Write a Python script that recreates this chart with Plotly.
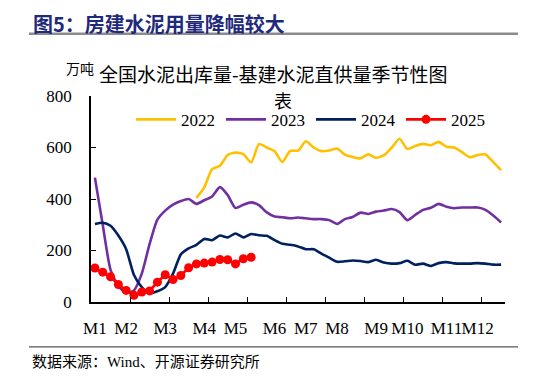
import plotly.graph_objects as go

# ---------------- data ----------------
weeks = list(range(1, 54))
y2022_weeks = list(range(14, 54))
y2022 = [404, 445, 516, 529, 571, 580, 574, 542, 613, 600, 585, 544, 587, 588,
         624, 600, 586, 588, 596, 572, 563, 558, 574, 560, 570, 600, 634, 594,
         606, 614, 609, 622, 603, 600, 582, 562, 571, 573, 543, 512]
y2023 = [483, 300, 125, 62, 35, 45, 110, 225, 320, 355, 378, 392, 400, 381,
         395, 410, 446, 415, 365, 378, 387, 376, 348, 332, 329, 325, 328, 325,
         322, 322, 318, 303, 322, 330, 347, 342, 351, 355, 361, 349, 318, 338,
         358, 366, 381, 370, 364, 367, 367, 367, 358, 336, 309]
y2024 = [303, 308, 296, 258, 205, 105, 58, 33, 42, 58, 110, 185, 208, 222,
         245, 240, 258, 251, 266, 251, 264, 259, 257, 240, 226, 222, 216, 205,
         205, 188, 172, 156, 158, 161, 159, 155, 164, 153, 149, 151, 160, 145,
         149, 140, 151, 155, 150, 149, 149, 151, 149, 145, 145]
y2025_weeks = list(range(1, 22))
y2025 = [132, 116, 98, 68, 45, 26, 39, 43, 77, 106, 87, 103, 133, 148, 151,
         155, 165, 164, 148, 168, 174]

month_labels = ["M1", "M2", "M3", "M4", "M5", "M6", "M7", "M8", "M9", "M10", "M11", "M12"]
month_pos = [1, 5, 10, 15, 19, 24, 28, 32, 37, 41, 46, 50]
tick_marks = [5.5, 10.5, 15.5, 20.5, 25.5, 30.5, 35.5, 40.5, 45.5, 50.5]

# ---------------- geometry helpers ----------------
# the page body has an 8px default margin, so the figure is drawn 8px smaller
OFF = 8
W, H = 546 - OFF, 377 - OFF
L, R, T, B = 91, 505, 95.7, 301.7   # plot area in page pixels


def px(x):
    return (x - L) / (R - L)


def py(y):
    return (B - y) / (B - T)


SERIF = "Liberation Serif, Times New Roman, Noto Sans CJK SC"
CJK = "Noto Sans CJK SC, Liberation Serif"

fig = go.Figure()
fig.add_trace(go.Scatter(x=y2022_weeks, y=y2022, name="2022", mode="lines",
                         line=dict(color="#FFC000", width=2.6, shape="spline", smoothing=0.6)))
fig.add_trace(go.Scatter(x=weeks, y=y2023, name="2023", mode="lines",
                         line=dict(color="#7030A0", width=2.6, shape="spline", smoothing=0.6)))
fig.add_trace(go.Scatter(x=weeks, y=y2024, name="2024", mode="lines",
                         line=dict(color="#002060", width=2.6, shape="spline", smoothing=0.6)))
fig.add_trace(go.Scatter(x=y2025_weeks, y=y2025, name="2025", mode="lines+markers",
                         line=dict(color="#FF0000", width=2.6),
                         marker=dict(color="#FF0000", size=9)))

fig.update_layout(
    width=W, height=H,
    margin=dict(l=L - OFF, r=546 - R, t=T - OFF, b=377 - B, pad=0),
    paper_bgcolor="white", plot_bgcolor="white",
    showlegend=True,
    legend=dict(orientation="h", x=px(131), y=py(119.5), xanchor="left", yanchor="middle",
                font=dict(family=SERIF, size=17, color="black"),
                entrywidth=35, entrywidthmode="pixels", itemwidth=40,
                bgcolor="rgba(0,0,0,0)", tracegroupgap=0),
    font=dict(family=SERIF, color="black"),
)

fig.update_xaxes(
    range=[0.5, 53.5], tickmode="array", tickvals=month_pos, ticktext=month_labels,
    tickangle=0, ticks="", showgrid=False, zeroline=False, showline=True,
    linecolor="black", linewidth=1.5,
    tickfont=dict(family=SERIF, size=17, color="black"), ticklabelstandoff=10,
    minor=dict(tickmode="array", tickvals=tick_marks, ticks="inside", ticklen=5,
               tickcolor="black", tickwidth=1.2, showgrid=False),
)
fig.update_yaxes(
    range=[0, 800], tickmode="array", tickvals=[0, 200, 400, 600, 800],
    ticks="inside", ticklen=5, tickcolor="black", tickwidth=1.2,
    showgrid=False, zeroline=False, showline=True, linecolor="black", linewidth=1.5,
    tickfont=dict(family=SERIF, size=17, color="black"), ticklabelstandoff=14,
)

ann = [
    dict(text="<b>图5：房建水泥用量降幅较大</b>", x=px(32), y=py(OFF), xanchor="left", yanchor="top",
         borderpad=0, font=dict(family=CJK, size=20, color="#1F2A7C")),
    dict(text="万吨", x=px(80), y=py(68), xanchor="center", yanchor="middle",
         font=dict(family=CJK, size=14, color="black")),
    dict(text="全国水泥出库量-基建水泥直供量季节性图", x=px(273.5), y=py(73), xanchor="center",
         yanchor="middle", font=dict(family=CJK, size=19, color="black")),
    dict(text="表", x=px(283), y=py(99.5), xanchor="center", yanchor="middle",
         font=dict(family=CJK, size=18, color="black")),
    dict(text="数据来源：Wind、开源证券研究所", x=px(30), y=py(362), xanchor="left", yanchor="middle",
         font=dict(family="Liberation Serif, Noto Sans CJK SC", size=15, color="black")),
]
for a in ann:
    a.update(xref="paper", yref="paper", showarrow=False)
fig.update_layout(annotations=ann)

fig.update_layout(shapes=[
    dict(type="line", xref="paper", yref="paper", x0=px(29), x1=px(518), y0=py(33.5), y1=py(33.5),
         line=dict(color="#8C8C8C", width=2.5)),
    dict(type="line", xref="paper", yref="paper", x0=px(29), x1=px(518), y0=py(346.5), y1=py(346.5),
         line=dict(color="#555555", width=1.3)),
])

fig.write_html("out.html")
